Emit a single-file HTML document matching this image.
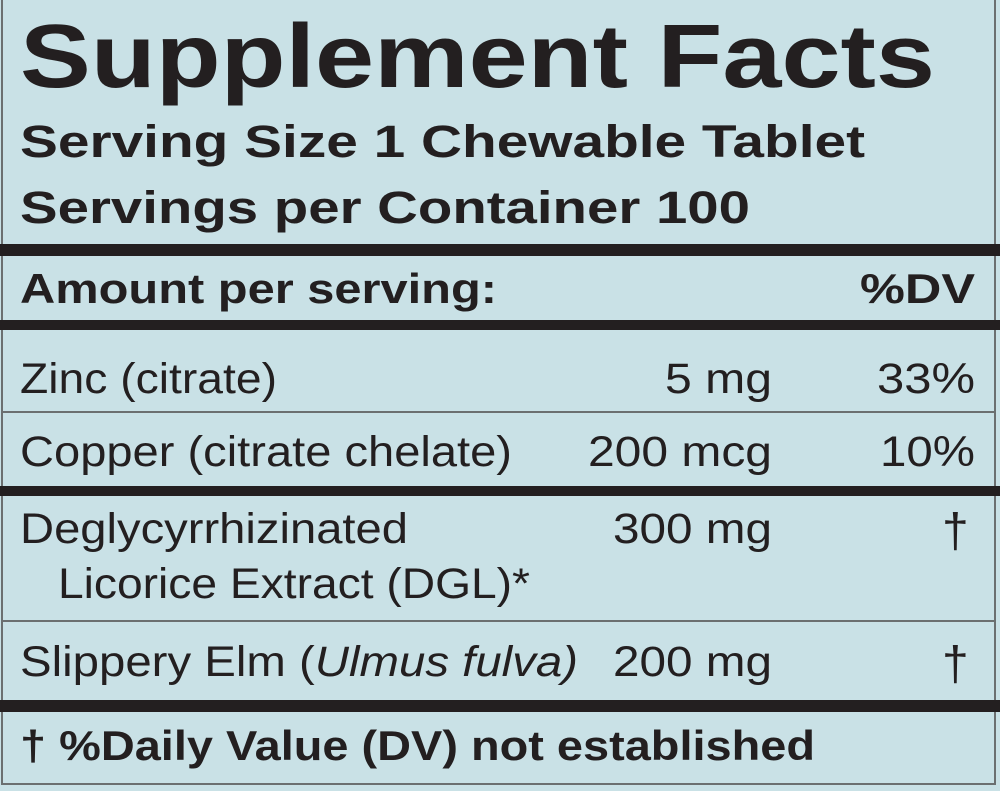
<!DOCTYPE html>
<html><head><style>html,body{margin:0;padding:0;background:#c9e1e6;}svg{display:block}</style></head>
<body>
<svg width="1000" height="791" xmlns="http://www.w3.org/2000/svg" font-family="Liberation Sans, Arial, sans-serif" fill="#231f20">
<rect x="0" y="0" width="1000" height="791" fill="#c9e1e6"/>
<rect x="2" y="-2" width="993" height="786" fill="none" stroke="#6b6f70" stroke-width="2"/>
<rect x="0" y="244" width="1000" height="12" fill="#231f20"/>
<rect x="0" y="320" width="1000" height="10" fill="#231f20"/>
<rect x="3" y="411" width="992" height="2" fill="#6b6f70"/>
<rect x="0" y="486" width="1000" height="10" fill="#231f20"/>
<rect x="3" y="620" width="992" height="2" fill="#6b6f70"/>
<rect x="0" y="700" width="1000" height="12" fill="#231f20"/>
<g font-weight="bold">
<text x="20" y="87" font-size="90" textLength="915" lengthAdjust="spacingAndGlyphs">Supplement Facts</text>
<text x="20" y="157" font-size="45" textLength="845" lengthAdjust="spacingAndGlyphs">Serving Size 1 Chewable Tablet</text>
<text x="20" y="223" font-size="45" textLength="730" lengthAdjust="spacingAndGlyphs">Servings per Container 100</text>
<text x="20" y="303" font-size="42" textLength="477" lengthAdjust="spacingAndGlyphs">Amount per serving:</text>
<text x="860" y="303" font-size="42" textLength="115" lengthAdjust="spacingAndGlyphs">%DV</text>
<text x="20" y="760" font-size="42" textLength="795" lengthAdjust="spacingAndGlyphs">† %Daily Value (DV) not established</text>
</g>
<g font-size="43">
<text x="20" y="393" textLength="257" lengthAdjust="spacingAndGlyphs">Zinc (citrate)</text>
<text x="665" y="393" textLength="107" lengthAdjust="spacingAndGlyphs">5 mg</text>
<text x="877" y="393" textLength="98" lengthAdjust="spacingAndGlyphs">33%</text>
<text x="20" y="466" textLength="492" lengthAdjust="spacingAndGlyphs">Copper (citrate chelate)</text>
<text x="588" y="466" textLength="184" lengthAdjust="spacingAndGlyphs">200 mcg</text>
<text x="880" y="466" textLength="95" lengthAdjust="spacingAndGlyphs">10%</text>
<text x="20" y="543" textLength="388" lengthAdjust="spacingAndGlyphs">Deglycyrrhizinated</text>
<text x="613" y="543" textLength="159" lengthAdjust="spacingAndGlyphs">300 mg</text>
<text x="942" y="547" font-size="48">†</text>
<text x="58" y="598" textLength="472" lengthAdjust="spacingAndGlyphs">Licorice Extract (DGL)*</text>
<text x="20" y="676" textLength="558" lengthAdjust="spacingAndGlyphs">Slippery Elm (<tspan font-style="italic">Ulmus fulva)</tspan></text>
<text x="613" y="676" textLength="159" lengthAdjust="spacingAndGlyphs">200 mg</text>
<text x="942" y="680" font-size="48">†</text>
</g>
</svg>
</body></html>
